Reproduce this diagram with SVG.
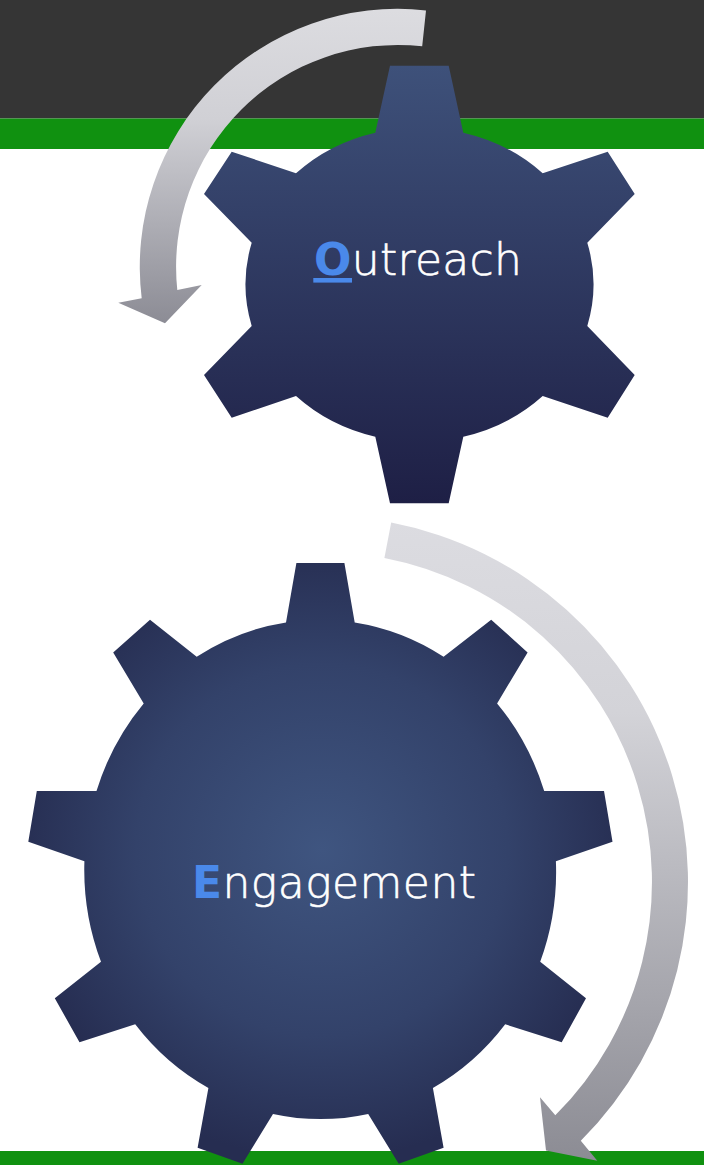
<svg xmlns="http://www.w3.org/2000/svg" width="704" height="1165" viewBox="0 0 704 1165">
  <style>
    .label { font-family: "DejaVu Sans", "Open Sans", "Liberation Sans", sans-serif; font-size: 44px; font-weight: 200; fill: #ffffff; stroke: #ffffff; stroke-width: 0.6px; }
    .initial { fill: #4a89ea; stroke: none; font-weight: 700; }
    .band-green { fill: #109110; }
  </style>
  <defs>
    <linearGradient id="gear1Grad" gradientUnits="userSpaceOnUse" x1="0" y1="65" x2="0" y2="503">
      <stop offset="0" stop-color="#3e517a"/>
      <stop offset="1" stop-color="#1e1f45"/>
    </linearGradient>
    <radialGradient id="gear2Grad" gradientUnits="userSpaceOnUse" cx="322" cy="850" r="310">
      <stop offset="0" stop-color="#3f5580"/>
      <stop offset="0.6" stop-color="#33426a"/>
      <stop offset="1" stop-color="#262d51"/>
    </radialGradient>
    <linearGradient id="arrow1Grad" gradientUnits="userSpaceOnUse" x1="0" y1="10" x2="0" y2="323">
      <stop offset="0" stop-color="#dcdce0"/>
      <stop offset="0.35" stop-color="#d0d0d5"/>
      <stop offset="1" stop-color="#8c8c95"/>
    </linearGradient>
    <linearGradient id="arrow2Grad" gradientUnits="userSpaceOnUse" x1="0" y1="520" x2="0" y2="1160">
      <stop offset="0" stop-color="#dcdce1"/>
      <stop offset="0.3" stop-color="#d3d3d8"/>
      <stop offset="1" stop-color="#8c8c94"/>
    </linearGradient>
  </defs>

  <!-- background bands -->
  <rect x="0" y="0" width="704" height="118.5" fill="#353535"/>
  <rect class="band-green" x="0" y="118.5" width="704" height="30.5"/>
  <rect class="band-green" x="0" y="1151" width="704" height="14"/>

  <!-- Outreach gear -->
  <g id="gear-outreach">
    <path fill="url(#gear1Grad)" d="M375.3,132.7 L390,65.7 L448.7,65.7 L463.3,132.7 A173.3 157.5 0 0 1 542.7,173.3 L607.7,151.7 L634.7,194 L587.3,242.7 A173.3 157.5 0 0 1 587.3,326 L634.7,375 L607.7,417.7 L542.7,396 A173.3 157.5 0 0 1 463.3,436.7 L448.7,503.3 L390,503.3 L375.3,436.7 A173.3 157.5 0 0 1 296,396 L231.7,417.7 L204,375 L251.7,326 A173.3 157.5 0 0 1 251.7,242.7 L204,194 L231.7,151.7 L296,173.3 A173.3 157.5 0 0 1 375.3,132.7 Z"/>
    <text class="label" x="314" y="275" textLength="208"><tspan class="initial">O</tspan>utreach</text>
    <rect x="313.3" y="278" width="38.7" height="4.6" fill="#4a89ea"/>
  </g>

  <!-- Engagement gear -->
  <g id="gear-engagement">
    <path fill="url(#gear2Grad)" d="M286,622.5 L296.4,563.1 L344.4,563.1 L354.7,622.5 A236 249 0 0 1 443.6,656.8 L491.2,619.7 L527.6,652.4 L497.1,703.4 A236 249 0 0 1 544.2,791.1 L604,791.1 L612.5,841.7 L555.9,861.2 A236 249 0 0 1 540.2,961.7 L586,998.3 L561.7,1042.2 L505.2,1024.3 A236 249 0 0 1 432.9,1088 L443.6,1147.8 L398.7,1163.8 L368.2,1113.9 A236 249 0 0 1 273,1113.9 L242.5,1163.8 L197.6,1147.8 L208.4,1088 A236 249 0 0 1 135.2,1024.3 L79.5,1042.2 L54.8,998.3 L101,961.7 A236 249 0 0 1 84.4,861.2 L28.3,841.7 L36.8,791.1 L96.5,791.1 A236 249 0 0 1 143.7,703.4 L113.2,652.4 L150,619.7 L196.7,656.8 A236 249 0 0 1 286,622.5 Z"/>
    <text class="label" x="192" y="898" textLength="284"><tspan class="initial">E</tspan>ngagement</text>
  </g>

  <!-- connectors -->
  <g id="connectors">
    <g id="arrow-outreach-to-engagement">
      <path d="M426,10.4 A258 258 0 0 0 141.7,298.3 L118.3,302.7 L165,323.3 L201.7,285 L177.3,290 A222 222 0 0 1 422.2,46.2 Z" fill="url(#arrow1Grad)"/>
    </g>
    <g id="arrow-engagement-loop">
      <path d="M391.2,522.6 A366 366 0 0 1 580.8,1140.8 L597.3,1160.7 L546,1150.5 L540,1097.3 L555.3,1115.3 A330 330 0 0 0 384.4,557.9 Z" fill="url(#arrow2Grad)"/>
    </g>
  </g>
</svg>
